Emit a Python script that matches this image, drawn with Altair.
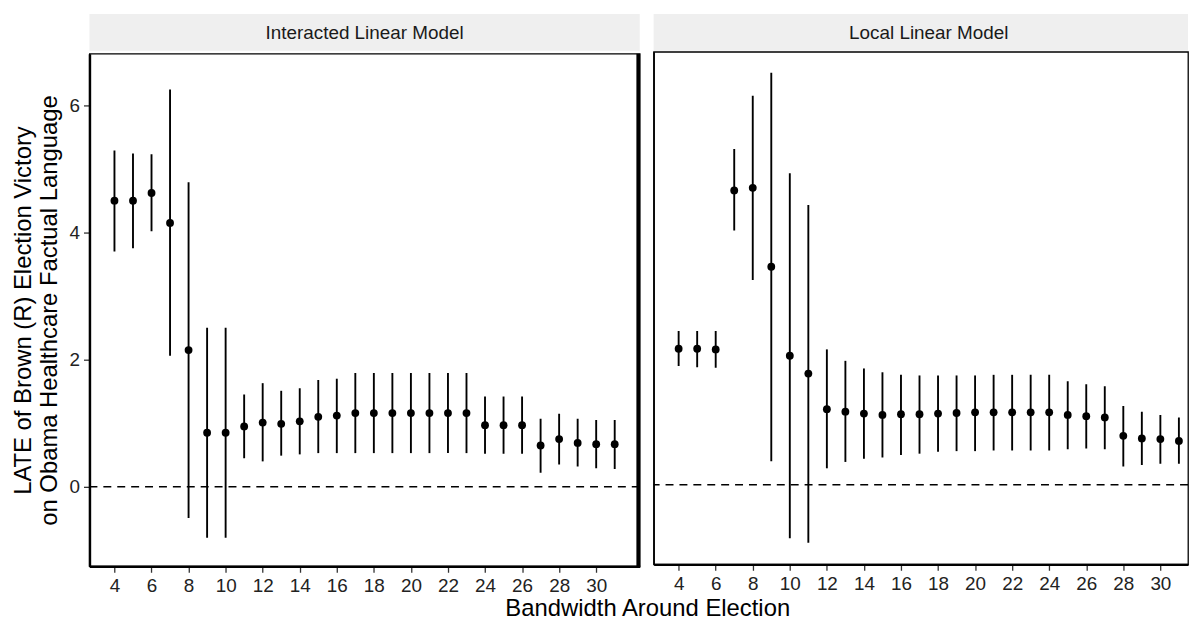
import altair as alt
import pandas as pd

bandwidth = list(range(4, 32))

int_est = [4.50, 4.50, 4.62, 4.15, 2.15, 0.85, 0.85, 0.95, 1.01, 0.99, 1.03, 1.10, 1.12, 1.16,
           1.16, 1.16, 1.16, 1.16, 1.16, 1.16, 0.97, 0.97, 0.97, 0.65, 0.75, 0.69, 0.67, 0.67]
int_lo = [3.70, 3.75, 4.02, 2.06, -0.49, -0.80, -0.80, 0.45, 0.40, 0.49, 0.51, 0.53, 0.53, 0.53,
          0.53, 0.53, 0.53, 0.53, 0.53, 0.53, 0.52, 0.52, 0.52, 0.22, 0.35, 0.32, 0.29, 0.28]
int_hi = [5.29, 5.24, 5.23, 6.25, 4.79, 2.50, 2.50, 1.45, 1.63, 1.51, 1.55, 1.68, 1.70, 1.79,
          1.79, 1.79, 1.79, 1.79, 1.79, 1.79, 1.42, 1.42, 1.42, 1.07, 1.15, 1.07, 1.05, 1.05]

loc_est = [2.14, 2.14, 2.13, 4.63, 4.67, 3.43, 2.03, 1.75, 1.19, 1.15, 1.12, 1.10, 1.11, 1.11,
           1.12, 1.13, 1.14, 1.14, 1.14, 1.14, 1.14, 1.10, 1.08, 1.06, 0.77, 0.73, 0.72, 0.69]
loc_lo = [1.87, 1.85, 1.84, 4.00, 3.22, 0.37, -0.84, -0.91, 0.26, 0.36, 0.41, 0.43, 0.47, 0.49,
          0.52, 0.53, 0.53, 0.54, 0.54, 0.54, 0.54, 0.56, 0.57, 0.56, 0.29, 0.31, 0.33, 0.33]
loc_hi = [2.42, 2.42, 2.42, 5.28, 6.12, 6.48, 4.90, 4.40, 2.13, 1.95, 1.83, 1.77, 1.73, 1.72,
          1.72, 1.72, 1.72, 1.73, 1.73, 1.73, 1.73, 1.63, 1.58, 1.55, 1.24, 1.15, 1.10, 1.06]

panel_titles = ["Interacted Linear Model", "Local Linear Model"]
x_ticks = list(range(4, 31, 2))
y_ticks = [0, 2, 4, 6]

FONT = "Liberation Sans"
TICK_FS = 19
TITLE_FS = 24
PW = 554
PW_RIGHT = 538
PH = 516
STRIP_H = 37
Y_DOM = [-1.25, 6.81]
X_DOM_L = [2.65, 32.35]
X_DOM_R = [2.65, 2.65 + (32.35 - 2.65) * PW_RIGHT / PW]


def panel(est, lo, hi, title, width, xdom, show_y):
    df = pd.DataFrame({"bw": bandwidth, "est": est, "lo": lo, "hi": hi})
    xs = alt.Scale(domain=xdom, nice=False, zero=False)
    ys = alt.Scale(domain=Y_DOM, nice=False, zero=False)
    xaxis = alt.Axis(values=x_ticks, title=None, grid=False, tickSize=6, tickWidth=1.3,
                     tickColor="#333333", domainColor="black",
                     domainWidth=2.5 if show_y else 2.2,
                     labelFontSize=TICK_FS, labelColor="#222222", labelFont=FONT, labelPadding=4)
    if show_y:
        yaxis = alt.Axis(values=y_ticks, format="d", grid=False, tickSize=6, tickWidth=1.3,
                         tickColor="#333333", domainColor="black", domainWidth=2.5,
                         labelFontSize=TICK_FS, labelColor="#222222", labelFont=FONT,
                         labelPadding=4,
                         title=["LATE of Brown (R) Election Victory",
                                "on Obama Healthcare Factual Language"],
                         titleFont=FONT, titleFontSize=TITLE_FS, titleFontWeight="normal",
                         titleColor="black", titlePadding=8, titleLineHeight=26)
    else:
        yaxis = alt.Axis(values=y_ticks, grid=False, ticks=False, labels=False, title=None,
                         domainColor="black", domainWidth=1.6)
    base = alt.Chart(df)
    rules = base.mark_rule(color="black", strokeWidth=1.9, clip=True).encode(
        x=alt.X("bw:Q", scale=xs, axis=xaxis),
        y=alt.Y("lo:Q", scale=ys, axis=yaxis),
        y2="hi:Q",
    )
    pts = base.mark_circle(color="black", opacity=1, size=62, clip=True).encode(
        x=alt.X("bw:Q", scale=xs),
        y=alt.Y("est:Q", scale=ys),
    )
    zero = alt.Chart(pd.DataFrame({"z": [0]})).mark_rule(
        color="black", strokeDash=[8, 6], strokeWidth=1.5).encode(
        y=alt.Y("z:Q", scale=ys))
    layers = [zero, rules, pts]
    if show_y:
        edge = alt.Chart(pd.DataFrame({"z": [0]})).mark_rule(color="black", strokeWidth=3.7).encode(
            x=alt.value(width - 1.5), y=alt.value(0), y2=alt.value(PH))
        layers.append(edge)
    p = alt.layer(*layers).properties(
        width=width, height=PH,
        view=alt.ViewBackground(stroke="black", strokeWidth=1.3))

    strip_df = pd.DataFrame({"label": [title]})
    sb = alt.Chart(strip_df)
    rect = sb.mark_rect(color="#EFEFEF").encode(
        x=alt.value(0), x2=alt.value(width), y=alt.value(0), y2=alt.value(STRIP_H))
    txt = sb.mark_text(font=FONT, fontSize=TICK_FS, color="#1A1A1A", baseline="middle").encode(
        x=alt.value(PW / 2), y=alt.value(STRIP_H / 2 + 1), text="label:N")
    strip = alt.layer(rect, txt).properties(
        width=width, height=STRIP_H, view=alt.ViewBackground(stroke=None))
    return alt.vconcat(strip, p, spacing=0)


left = panel(int_est, int_lo, int_hi, panel_titles[0], PW, X_DOM_L, True)
right = panel(loc_est, loc_lo, loc_hi, panel_titles[1], PW_RIGHT, X_DOM_R, False)

chart = alt.hconcat(left, right, spacing=10).properties(
    title=alt.TitleParams("Bandwidth Around Election", orient="bottom", anchor="middle",
                          font=FONT, fontSize=TITLE_FS, fontWeight="normal", color="black",
                          offset=1, dx=48),
    padding={"left": 2, "top": 4, "right": 0, "bottom": 0},
).configure_view(stroke=None).configure(background="white")

chart.save("out.html", embed_options={"renderer": "svg", "actions": False})
